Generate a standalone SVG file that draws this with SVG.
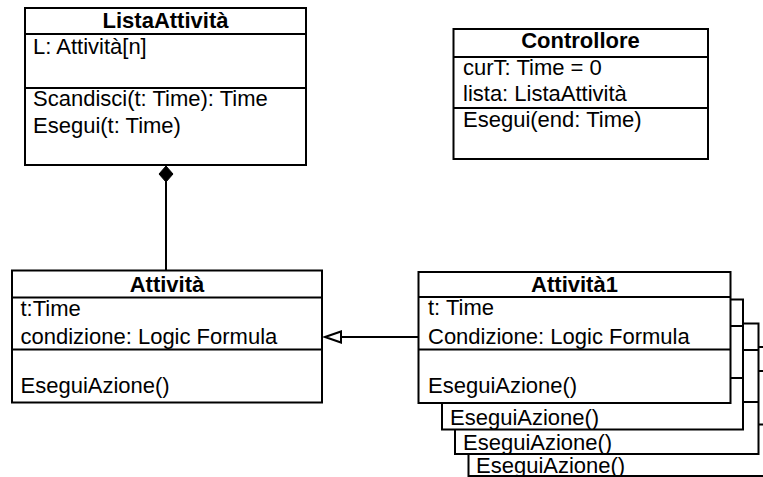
<svg xmlns="http://www.w3.org/2000/svg" width="763" height="477" viewBox="0 0 763 477">
  <style>
    .box { fill: #fff; stroke: #000; stroke-width: 2; }
    .sep { stroke: #000; stroke-width: 2; fill: none; }
    .t { font-family: "Liberation Sans", Arial, Helvetica, sans-serif; font-size: 22px; fill: #000; }
    .title { font-weight: bold; text-anchor: middle; }
    .conn { stroke: #000; stroke-width: 2; fill: none; }
  </style>
  <rect width="763" height="477" fill="#fff"/>

  <!-- ListaAttività -->
  <g id="lista-attivita">
    <rect class="box" x="25" y="8" width="281" height="157"/>
    <line class="sep" x1="25" y1="34" x2="306" y2="34"/>
    <line class="sep" x1="25" y1="88" x2="306" y2="88"/>
    <text class="t title" x="165.5" y="28">ListaAttività</text>
    <text class="t" x="33" y="54">L: Attività[n]</text>
    <text class="t" x="33" y="106">Scandisci(t: Time): Time</text>
    <text class="t" x="33" y="133">Esegui(t: Time)</text>
  </g>

  <!-- Controllore -->
  <g id="controllore">
    <rect class="box" x="453.5" y="29" width="254.5" height="130"/>
    <line class="sep" x1="453.5" y1="57" x2="708" y2="57"/>
    <line class="sep" x1="453.5" y1="108" x2="708" y2="108"/>
    <text class="t title" x="580.5" y="48">Controllore</text>
    <text class="t" x="463" y="75">curT: Time = 0</text>
    <text class="t" x="463" y="101">lista: ListaAttività</text>
    <text class="t" x="463" y="127">Esegui(end: Time)</text>
  </g>

  <!-- Attività -->
  <g id="attivita">
    <rect class="box" x="12" y="270.5" width="310" height="132"/>
    <line class="sep" x1="12" y1="297.5" x2="322" y2="297.5"/>
    <line class="sep" x1="12" y1="349.5" x2="322" y2="349.5"/>
    <text class="t title" x="167" y="291.5">Attività</text>
    <text class="t" x="20.5" y="316">t:Time</text>
    <text class="t" x="20.5" y="344">condizione: Logic Formula</text>
    <text class="t" x="20.5" y="393">EseguiAzione()</text>
  </g>

  <!-- Attività1 with its stacked instances, back to front -->
  <g id="attivita1">
    <g id="attivita1-copy3">
      <rect class="box" x="468.5" y="347" width="310" height="129"/>
      <line class="sep" x1="468.5" y1="371" x2="778.5" y2="371"/>
      <line class="sep" x1="468.5" y1="424.5" x2="778.5" y2="424.5"/>
      <text class="t" x="476" y="473">EseguiAzione()</text>
    </g>
    <g id="attivita1-copy2">
      <rect class="box" x="455" y="323.5" width="303.5" height="130.5"/>
      <line class="sep" x1="455" y1="350" x2="758.5" y2="350"/>
      <line class="sep" x1="455" y1="402" x2="758.5" y2="402"/>
      <text class="t" x="463" y="450">EseguiAzione()</text>
    </g>
    <g id="attivita1-copy1">
      <rect class="box" x="442" y="299.5" width="301" height="130"/>
      <line class="sep" x1="442" y1="326" x2="743" y2="326"/>
      <line class="sep" x1="442" y1="378" x2="743" y2="378"/>
      <text class="t" x="450" y="424.5">EseguiAzione()</text>
    </g>
    <g id="attivita1-main">
      <rect class="box" x="418.5" y="272" width="312" height="131"/>
      <line class="sep" x1="418.5" y1="297" x2="730.5" y2="297"/>
      <line class="sep" x1="418.5" y1="349.5" x2="730.5" y2="349.5"/>
      <text class="t title" x="574.5" y="291.5">Attività1</text>
      <text class="t" x="428" y="315">t: Time</text>
      <text class="t" x="428" y="343.5">Condizione: Logic Formula</text>
      <text class="t" x="428" y="393">EseguiAzione()</text>
    </g>
  </g>

  <!-- Connectors -->
  <g id="connectors">
    <!-- composition: ListaAttività owns Attività -->
    <line class="conn" x1="166" y1="181" x2="166" y2="270.5"/>
    <polygon points="166,166 173,174 166,182 159,174" fill="#000" stroke="#000" stroke-width="1"/>
    <!-- generalization: Attività1 extends Attività -->
    <line class="conn" x1="341" y1="337" x2="418.5" y2="337"/>
    <polygon points="325,337 341,331.5 341,342.5" fill="#fff" stroke="#000" stroke-width="2"/>
  </g>
</svg>
